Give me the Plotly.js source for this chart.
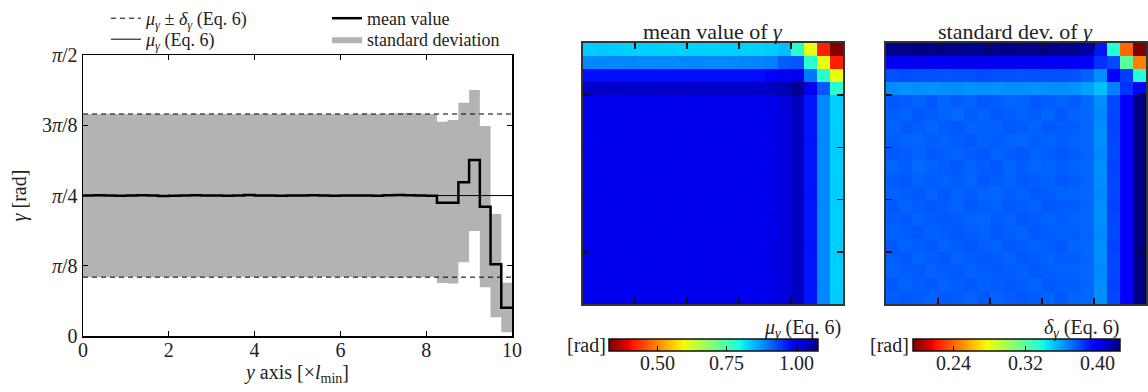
<!DOCTYPE html>
<html><head><meta charset="utf-8">
<script src="https://cdn.plot.ly/plotly-3.0.1.min.js"></script>
<style>html,body{margin:0;padding:0;background:#fff}#chart{width:1148px;height:392px}</style>
</head><body><div id="chart"></div>
<script>
// ---------- data: left panel ----------
const binEdges = [0,0.25,0.5,0.75,1,1.25,1.5,1.75,2,2.25,2.5,2.75,3,3.25,3.5,3.75,4,4.25,4.5,4.75,5,5.25,5.5,5.75,6,6.25,6.5,6.75,7,7.25,7.5,7.75,8,8.25,8.5,8.75,9,9.25,9.5,9.75,10];
const meanGamma = [0.786,0.787,0.785,0.784,0.786,0.787,0.786,0.783,0.784,0.785,0.787,0.786,0.785,0.784,0.786,0.788,0.786,0.785,0.784,0.785,0.786,0.787,0.785,0.784,0.785,0.786,0.785,0.784,0.787,0.788,0.787,0.785,0.784,0.745,0.745,0.859,0.984,0.723,0.401,0.158];
const stdUpper = [1.241,1.240,1.242,1.241,1.239,1.241,1.242,1.240,1.241,1.240,1.242,1.241,1.240,1.241,1.239,1.241,1.242,1.240,1.241,1.240,1.241,1.242,1.240,1.241,1.240,1.241,1.242,1.241,1.243,1.245,1.246,1.243,1.241,1.198,1.207,1.304,1.375,1.174,0.682,0.298];
const stdLower = [0.329,0.330,0.328,0.329,0.331,0.329,0.328,0.330,0.329,0.330,0.328,0.329,0.330,0.329,0.331,0.329,0.328,0.330,0.329,0.330,0.329,0.328,0.330,0.329,0.330,0.329,0.328,0.329,0.327,0.326,0.328,0.329,0.330,0.296,0.293,0.412,0.587,0.272,0.105,0.021];
const muEq6 = 0.785;
const deltaEq6 = 0.456;
const yTickVals = [0, Math.PI/8, Math.PI/4, 3*Math.PI/8, Math.PI/2];
const yTickText = ['0','<i>π</i>/8','<i>π</i>/4','3<i>π</i>/8','<i>π</i>/2'];
const xTickVals = [0,2,4,6,8,10];

// ---------- data: mean value of gamma (20x20, top row first) ----------
const meanGrid = [
[0.834,0.835,0.833,0.830,0.830,0.831,0.830,0.829,0.830,0.830,0.830,0.831,0.830,0.830,0.833,0.843,0.778,0.604,0.421,0.330],
[0.884,0.883,0.884,0.885,0.884,0.884,0.883,0.884,0.885,0.884,0.884,0.884,0.885,0.886,0.890,0.915,0.920,0.778,0.604,0.421],
[0.975,0.974,0.976,0.975,0.975,0.975,0.974,0.975,0.976,0.975,0.975,0.975,0.975,0.976,0.985,1.003,1.004,0.896,0.778,0.604],
[1.031,1.032,1.031,1.031,1.032,1.031,1.031,1.032,1.031,1.031,1.031,1.032,1.031,1.032,1.036,1.046,1.067,1.008,0.919,0.778],
[1.006,1.004,1.006,1.005,1.007,1.004,1.005,1.006,1.005,1.004,1.006,1.005,1.004,1.006,1.009,1.017,1.036,0.970,0.884,0.832],
[1.004,1.007,1.005,1.006,1.004,1.006,1.007,1.005,1.004,1.006,1.005,1.004,1.006,1.005,1.010,1.018,1.037,0.969,0.883,0.831],
[1.005,1.005,1.008,1.006,1.005,1.004,1.006,1.005,1.007,1.005,1.004,1.006,1.005,1.004,1.009,1.017,1.036,0.970,0.884,0.832],
[1.003,1.006,1.005,1.004,1.006,1.005,1.004,1.007,1.006,1.004,1.005,1.007,1.005,1.006,1.010,1.016,1.035,0.971,0.885,0.833],
[1.006,1.004,1.005,1.007,1.005,1.006,1.005,1.004,1.005,1.006,1.007,1.005,1.004,1.005,1.009,1.017,1.036,0.970,0.884,0.832],
[1.005,1.006,1.004,1.005,1.006,1.008,1.006,1.005,1.004,1.006,1.005,1.006,1.007,1.005,1.010,1.018,1.037,0.969,0.884,0.831],
[1.004,1.005,1.006,1.004,1.005,1.006,1.007,1.006,1.005,1.004,1.006,1.005,1.004,1.006,1.009,1.017,1.036,0.970,0.883,0.832],
[1.006,1.004,1.005,1.006,1.004,1.005,1.006,1.008,1.006,1.005,1.004,1.006,1.005,1.004,1.010,1.016,1.035,0.971,0.884,0.833],
[1.005,1.006,1.004,1.005,1.007,1.006,1.005,1.004,1.006,1.007,1.005,1.004,1.006,1.005,1.009,1.017,1.036,0.970,0.885,0.832],
[1.004,1.005,1.006,1.007,1.005,1.004,1.006,1.005,1.004,1.006,1.008,1.006,1.005,1.004,1.010,1.018,1.037,0.969,0.884,0.831],
[1.006,1.004,1.005,1.006,1.006,1.005,1.004,1.006,1.007,1.005,1.004,1.005,1.006,1.007,1.009,1.017,1.036,0.970,0.884,0.832],
[1.005,1.007,1.004,1.005,1.004,1.006,1.005,1.007,1.005,1.004,1.006,1.005,1.004,1.006,1.010,1.016,1.035,0.971,0.883,0.832],
[1.004,1.005,1.006,1.004,1.006,1.007,1.006,1.005,1.004,1.006,1.005,1.007,1.005,1.005,1.009,1.017,1.036,0.970,0.884,0.833],
[1.006,1.004,1.005,1.006,1.005,1.004,1.007,1.006,1.005,1.004,1.006,1.005,1.006,1.004,1.010,1.018,1.037,0.969,0.884,0.831],
[1.005,1.006,1.004,1.005,1.006,1.005,1.004,1.005,1.007,1.006,1.005,1.004,1.005,1.006,1.009,1.017,1.036,0.970,0.885,0.832],
[1.004,1.005,1.007,1.006,1.004,1.006,1.005,1.004,1.005,1.007,1.006,1.005,1.004,1.005,1.010,1.017,1.036,0.970,0.884,0.832]
];
// ---------- data: standard deviation of gamma (20x20, top row first) ----------
const stdGrid = [
[0.423,0.423,0.424,0.423,0.423,0.423,0.422,0.423,0.423,0.424,0.423,0.423,0.423,0.423,0.422,0.418,0.392,0.335,0.241,0.195],
[0.402,0.402,0.403,0.402,0.402,0.402,0.402,0.403,0.402,0.402,0.402,0.402,0.402,0.402,0.401,0.396,0.385,0.380,0.319,0.247],
[0.378,0.379,0.378,0.378,0.377,0.378,0.378,0.379,0.378,0.378,0.377,0.378,0.378,0.378,0.377,0.374,0.364,0.398,0.382,0.335],
[0.364,0.363,0.364,0.363,0.364,0.364,0.363,0.364,0.363,0.364,0.364,0.363,0.364,0.364,0.363,0.360,0.353,0.367,0.385,0.398],
[0.376,0.375,0.374,0.376,0.373,0.375,0.374,0.376,0.375,0.373,0.374,0.376,0.375,0.374,0.375,0.372,0.364,0.380,0.398,0.425],
[0.375,0.374,0.376,0.375,0.374,0.372,0.375,0.374,0.376,0.375,0.374,0.375,0.373,0.376,0.374,0.372,0.365,0.380,0.397,0.425],
[0.374,0.376,0.375,0.373,0.375,0.376,0.374,0.375,0.374,0.376,0.375,0.374,0.376,0.375,0.375,0.373,0.364,0.381,0.398,0.425],
[0.375,0.374,0.373,0.375,0.374,0.375,0.376,0.374,0.375,0.374,0.373,0.375,0.374,0.375,0.374,0.372,0.364,0.380,0.398,0.425],
[0.376,0.375,0.374,0.376,0.375,0.374,0.375,0.376,0.374,0.375,0.376,0.374,0.375,0.376,0.375,0.373,0.365,0.380,0.397,0.425],
[0.373,0.375,0.372,0.374,0.375,0.376,0.374,0.375,0.376,0.374,0.375,0.373,0.374,0.375,0.374,0.372,0.364,0.381,0.398,0.425],
[0.375,0.376,0.374,0.375,0.374,0.375,0.373,0.376,0.375,0.374,0.376,0.375,0.374,0.376,0.375,0.373,0.364,0.380,0.398,0.425],
[0.374,0.375,0.376,0.374,0.376,0.374,0.375,0.374,0.373,0.375,0.374,0.376,0.375,0.374,0.374,0.372,0.365,0.380,0.397,0.425],
[0.376,0.374,0.375,0.376,0.375,0.374,0.376,0.375,0.374,0.376,0.375,0.374,0.376,0.375,0.375,0.373,0.364,0.381,0.398,0.425],
[0.375,0.376,0.374,0.375,0.376,0.375,0.374,0.373,0.375,0.374,0.376,0.375,0.374,0.375,0.374,0.372,0.364,0.380,0.398,0.425],
[0.374,0.375,0.376,0.374,0.375,0.376,0.375,0.374,0.376,0.375,0.374,0.376,0.375,0.374,0.375,0.373,0.365,0.380,0.397,0.425],
[0.376,0.374,0.375,0.376,0.374,0.375,0.376,0.375,0.374,0.376,0.375,0.374,0.375,0.376,0.374,0.372,0.364,0.381,0.398,0.425],
[0.375,0.376,0.374,0.375,0.376,0.374,0.375,0.376,0.375,0.374,0.376,0.375,0.374,0.375,0.375,0.373,0.364,0.380,0.398,0.425],
[0.374,0.375,0.376,0.374,0.375,0.376,0.374,0.375,0.376,0.375,0.374,0.376,0.375,0.374,0.374,0.372,0.365,0.380,0.397,0.425],
[0.376,0.374,0.375,0.376,0.374,0.375,0.376,0.374,0.375,0.376,0.375,0.374,0.376,0.375,0.375,0.373,0.364,0.381,0.398,0.425],
[0.375,0.376,0.375,0.374,0.376,0.375,0.374,0.376,0.374,0.375,0.376,0.375,0.374,0.376,0.374,0.372,0.364,0.380,0.398,0.425]
];
const meanRange = [0.328, 1.0775];
const stdRange = [0.195, 0.4247];
const meanCbTicks = [0.50, 0.75, 1.00];
const meanCbText = ['0.50','0.75','1.00'];
const stdCbTicks = [0.24, 0.32, 0.40];
const stdCbText = ['0.24','0.32','0.40'];
const meanCbMark = 1.00;
const stdCbMark = 0.375;

// matplotlib "jet" reversed
const jetR = [
 [0,'rgb(128,0,0)'],[0.09,'rgb(232,0,0)'],[0.11,'rgb(255,19,0)'],[0.34,'rgb(255,236,0)'],
 [0.35,'rgb(247,246,0)'],[0.36,'rgb(239,255,8)'],[0.625,'rgb(21,255,226)'],[0.65,'rgb(0,230,247)'],
 [0.66,'rgb(0,219,255)'],[0.875,'rgb(0,0,255)'],[0.89,'rgb(0,0,255)'],[1,'rgb(0,0,128)']
];

// ---------- layout geometry ----------
const W = 1148, H = 392;
const FONT = '"Liberation Serif", "Times New Roman", serif';
const px = v => v / W, py = v => 1 - v / H;
const stepY = arr => arr.concat([arr[arr.length-1]]);
const xEnds = [binEdges[0], binEdges[binEdges.length-1]];

const cb1 = {cx: 713.8, len: 209};
const cb2 = {cx: 1016.4, len: 207};
const cbTop = 339, cbBot = 351, cbLabelY = 363;

const cbBar = (cb) => ({orientation:'h', x: px(cb.cx), xanchor:'center', y: py(cbTop), yanchor:'top', len: cb.len, lenmode:'pixels',
    thickness: cbBot-cbTop, thicknessmode:'pixels', xpad:0, ypad:0, outlinewidth:1.5, outlinecolor:'#111',
    ticks:'inside', ticklen:5, tickcolor:'#111', showticklabels:false});

const traces = [
 {x: binEdges, y: stepY(stdLower), type:'scatter', mode:'lines', line:{shape:'hv', width:0, color:'#b3b3b3'},
  showlegend:false, hoverinfo:'skip', xaxis:'x', yaxis:'y'},
 {x: binEdges, y: stepY(stdUpper), type:'scatter', mode:'lines', line:{shape:'hv', width:0, color:'#b3b3b3'},
  fill:'tonexty', fillcolor:'#b3b3b3', name:'standard deviation', legend:'legend4',
  hoverinfo:'skip', xaxis:'x', yaxis:'y'},
 {x: xEnds, y: [muEq6+deltaEq6, muEq6+deltaEq6], type:'scatter', mode:'lines', line:{color:'#000', width:1, dash:'5px,4px'},
  name:'<i>μ</i><sub><i>γ</i></sub> ± <i>δ</i><sub><i>γ</i></sub> (Eq. 6)', legend:'legend', xaxis:'x', yaxis:'y'},
 {x: xEnds, y: [muEq6-deltaEq6, muEq6-deltaEq6], type:'scatter', mode:'lines', line:{color:'#000', width:1, dash:'5px,4px'},
  showlegend:false, xaxis:'x', yaxis:'y'},
 {x: xEnds, y: [muEq6, muEq6], type:'scatter', mode:'lines', line:{color:'#000', width:1},
  name:'<i>μ</i><sub><i>γ</i></sub> (Eq. 6)', legend:'legend2', xaxis:'x', yaxis:'y'},
 {x: binEdges, y: stepY(meanGamma), type:'scatter', mode:'lines', line:{shape:'hv', color:'#000', width:2.5},
  name:'mean value', legend:'legend3', xaxis:'x', yaxis:'y'},
 {z: meanGrid, type:'heatmap', colorscale: jetR, zmin: meanRange[0], zmax: meanRange[1], xaxis:'x2', yaxis:'y2',
  hoverinfo:'skip', colorbar: Object.assign(cbBar(cb1), {tickvals: meanCbTicks})},
 {z: stdGrid, type:'heatmap', colorscale: jetR, zmin: stdRange[0], zmax: stdRange[1], xaxis:'x3', yaxis:'y3',
  hoverinfo:'skip', colorbar: Object.assign(cbBar(cb2), {tickvals: stdCbTicks})}
];

const hmAxis = (dom, extra) => Object.assign({domain: dom, tickvals:[3.5,7.5,11.5,15.5], ticks:'inside', ticklen:6,
  tickwidth:1.5, tickcolor:'#111', showticklabels:false, showline:true, linecolor:'#333', linewidth:2,
  mirror:'allticks', showgrid:false, zeroline:false, fixedrange:true}, extra);

const cbPos = (cb, range, v) => cb.cx - cb.len/2 + (v - range[0])/(range[1]-range[0]) * cb.len;

const ann = (text, x, y, xanchor, size) => ({text, x:px(x), y:py(y), xref:'paper', yref:'paper', xanchor, yanchor:'middle',
  showarrow:false, font:{family:FONT, size, color:'#222'}});

const leg = (x, yTop) => ({x:px(x), y:py(yTop), xanchor:'left', yanchor:'top', bgcolor:'rgba(0,0,0,0)', borderwidth:0,
  font:{family:FONT, size:18, color:'#222'}, itemwidth:30});

const cbLabels = (cb, range, vals, texts) => vals.map((v, i) => ann(texts[i], cbPos(cb, range, v), cbLabelY, 'center', 20));

const layout = {
 width: W, height: H, margin:{l:0,r:0,t:0,b:0}, paper_bgcolor:'#fff', plot_bgcolor:'#fff',
 font:{family:FONT, size:20, color:'#222'},
 showlegend:true,
 xaxis:{domain:[px(83), px(512)], range:[0,10], tickvals:xTickVals, ticks:'inside', ticklen:5, tickwidth:1,
   tickcolor:'#000', showline:true, linecolor:'#000', linewidth:1.5, mirror:'allticks', showgrid:false, zeroline:false,
   tickfont:{family:FONT, size:20}, ticklabelstandoff:-5,
   title:{text:'<i>y</i> axis [×<i>l</i><sub>min</sub>]', font:{family:FONT, size:20}, standoff:2}, anchor:'y'},
 yaxis:{domain:[py(336), py(55)], range:[0, Math.PI/2], tickvals:yTickVals, ticktext:yTickText, ticks:'inside', ticklen:5,
   tickwidth:1, tickcolor:'#000', showline:true, linecolor:'#000', linewidth:1.5, mirror:'allticks', showgrid:false,
   zeroline:false, tickfont:{family:FONT, size:20}, title:{text:'<i>γ</i> [rad]', font:{family:FONT, size:20}, standoff:10}, anchor:'x'},
 xaxis2: hmAxis([px(583), px(843)], {range:[-0.5,19.5], anchor:'y2'}),
 yaxis2: hmAxis([py(304), py(43)], {range:[19.5,-0.5], anchor:'x2'}),
 xaxis3: hmAxis([px(886), px(1146)], {range:[-0.5,19.5], anchor:'y3'}),
 yaxis3: hmAxis([py(304), py(43)], {range:[19.5,-0.5], anchor:'x3'}),
 legend: leg(106, 0),
 legend2: leg(106, 21),
 legend3: leg(327, 0),
 legend4: leg(327, 21),
 annotations:[
  ann('mean value of <i>γ</i>', 713, 31, 'center', 22),
  ann('standard dev. of <i>γ</i>', 1016, 31, 'center', 22),
  ann('<i>μ</i><sub><i>γ</i></sub> (Eq. 6)', 843, 328, 'right', 20),
  ann('<i>δ</i><sub><i>γ</i></sub> (Eq. 6)', 1121, 328, 'right', 20),
  ann('[rad]', 608, 345, 'right', 20),
  ann('[rad]', 911, 345, 'right', 20)
 ].concat(cbLabels(cb1, meanRange, meanCbTicks, meanCbText), cbLabels(cb2, stdRange, stdCbTicks, stdCbText)),
 shapes:[
  {type:'line', xref:'paper', yref:'paper', x0:px(cbPos(cb1, meanRange, meanCbMark)), x1:px(cbPos(cb1, meanRange, meanCbMark)),
   y0:py(cbTop), y1:py(cbBot), line:{color:'#000', width:2}},
  {type:'line', xref:'paper', yref:'paper', x0:px(cbPos(cb2, stdRange, stdCbMark)), x1:px(cbPos(cb2, stdRange, stdCbMark)),
   y0:py(cbTop), y1:py(cbBot), line:{color:'#000', width:2}}
 ]
};

Plotly.newPlot('chart', traces, layout, {staticPlot:true, displayModeBar:false});
</script>
</body></html>
